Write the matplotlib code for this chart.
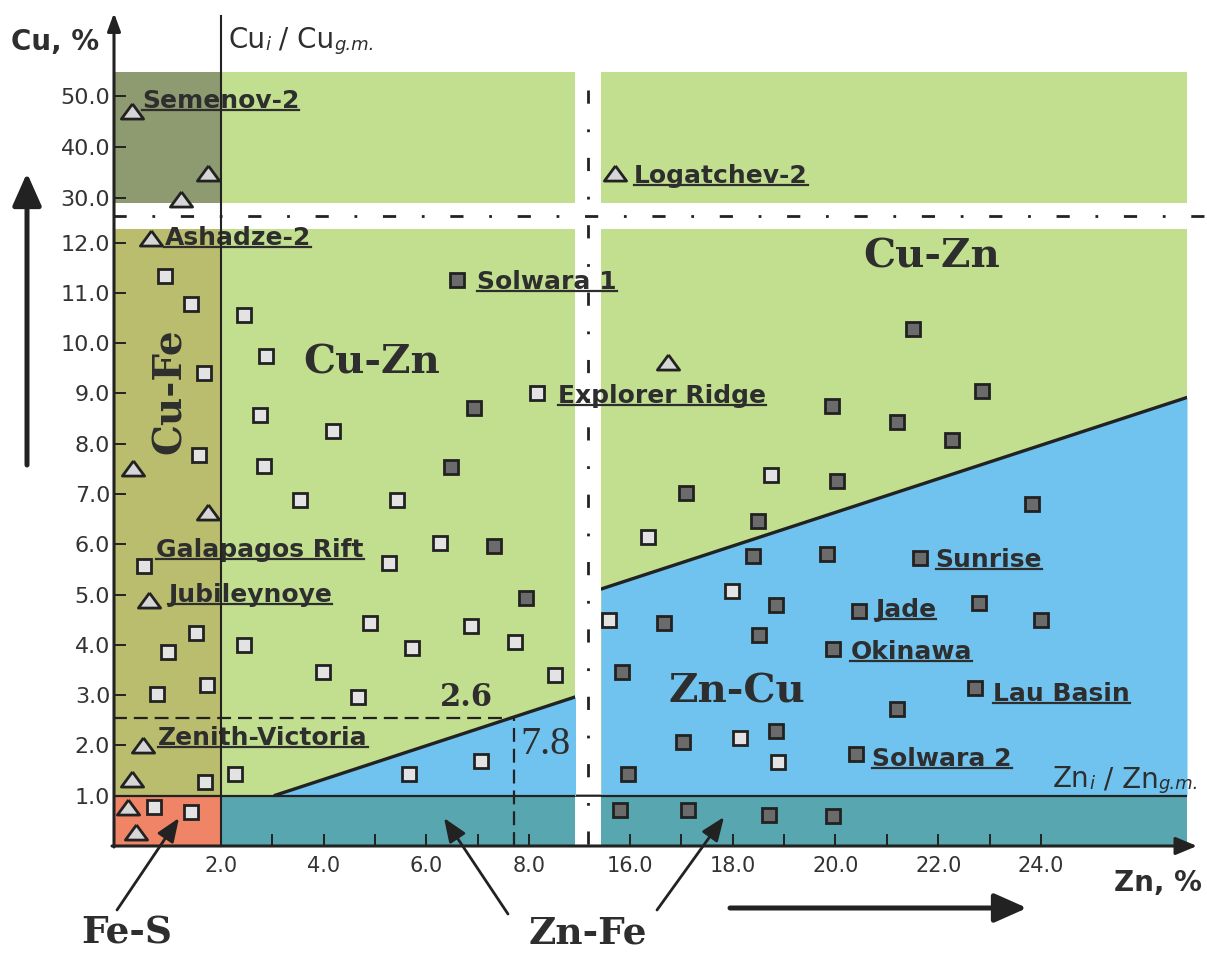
import numpy as np
import matplotlib.pyplot as plt
from matplotlib.patches import ConnectionPatch
from matplotlib.lines import Line2D
from matplotlib.transforms import IdentityTransform

plt.rcParams['font.family'] = 'DejaVu Sans'
plt.rcParams['lines.scale_dashes'] = False

# sample points, Zn % / Cu %
tri_zn = [0.64, 0.29, 1.74, 0.61, 0.48, 0.26, 0.20, 0.34, 16.74, 0.27, 1.75, 1.23, 15.71]
tri_cu = [12.1, 7.52, 6.65, 4.89, 2.0, 1.33, 0.77, 0.27, 9.62, 46.9, 34.9, 29.8, 34.8]

light_zn = [0.92, 1.41, 1.68, 1.57, 0.50, 1.51, 0.97, 1.73, 0.75, 1.69, 0.69, 1.41,
            2.44, 2.87, 2.77, 4.19, 2.83, 3.54, 5.43, 6.27, 5.28, 4.90, 6.86, 2.44,
            5.71, 7.73, 3.98, 4.66, 8.50, 2.27, 5.66, 7.07, 8.15,
            18.74, 16.35, 17.99, 15.60, 18.15, 18.89]
light_cu = [11.33, 10.77, 9.40, 7.77, 5.57, 4.23, 3.85, 3.20, 3.02, 1.28, 0.78, 0.67,
            10.55, 9.74, 8.58, 8.26, 7.56, 6.89, 6.89, 6.02, 5.63, 4.43, 4.37, 3.99,
            3.94, 4.06, 3.46, 2.97, 3.41, 1.43, 1.43, 1.69, 9.01,
            7.37, 6.14, 5.08, 4.50, 2.15, 1.67]

dark_zn = [6.59, 6.93, 6.48, 7.31, 7.93,
           21.50, 22.85, 19.94, 21.19, 22.26, 17.09, 20.04, 23.83, 18.50, 18.40,
           19.84, 21.64, 18.84, 22.80, 20.45, 16.67, 24.00, 18.51, 19.95, 15.84,
           22.71, 21.19, 18.84, 17.03, 20.40, 15.96, 15.81, 17.14, 18.71, 19.95]
dark_cu = [11.26, 8.72, 7.53, 5.96, 4.93,
           10.29, 9.04, 8.76, 8.43, 8.07, 7.02, 7.25, 6.80, 6.46, 5.77,
           5.81, 5.72, 4.80, 4.84, 4.68, 4.43, 4.50, 4.19, 3.91, 3.46,
           3.14, 2.72, 2.28, 2.07, 1.83, 1.43, 0.72, 0.72, 0.62, 0.59]

# deposit names and where their labels sit
names = ['Semenov-2', 'Logatchev-2', 'Ashadze-2', 'Solwara 1', 'Explorer Ridge',
         'Galapagos Rift', 'Jubileynoye', 'Zenith-Victoria', 'Sunrise', 'Jade',
         'Okinawa', 'Lau Basin', 'Solwara 2']
name_zn = [0.46, 16.08, 0.90, 6.99, 8.56, 0.74, 0.97, 0.78, 21.95, 20.77, 20.29, 23.07, 20.72]
name_cu = [47.5, 32.9, 11.96, 11.08, 8.80, 5.74, 4.86, 2.00, 5.54, 4.56, 3.71, 2.89, 1.59]

# field boundaries
div_left_zn = [3.03, 8.94]
div_left_cu = [1.0, 2.98]
div_right_zn = [15.44, 26.84]
div_right_cu = [5.11, 8.92]
cu_gm = 1.0      # Cu_i / Cu_g.m. = 1 (horizontal)
zn_gm = 2.0      # Zn_i / Zn_g.m. = 1 (vertical)
cu_cut, zn_cut = 2.55, 7.7

cu_ticks_low = [1, 2, 3, 4, 5, 6, 7, 8, 9, 10, 11, 12]
cu_ticks_up = [30, 40, 50]
zn_ticks_left = [2, 4, 6, 8]
zn_ticks_right = [16, 18, 20, 22, 24]

green = '#c2df8f'
olive = '#b9bd6d'
dark_olive = '#8e9a70'
salmon = '#ef8467'
teal = '#58a6af'
blue = '#6fc3ee'
ink = '#222222'
txt = '#2e2e2e'

W, H = 1207, 955
fig = plt.figure(figsize=(W / 100, H / 100), dpi=100)


def px_axes(x0, y0, x1, y1):
    return fig.add_axes([x0 / W, 1 - y1 / H, (x1 - x0) / W, (y1 - y0) / H])


ax_ll = px_axes(113, 229, 575, 846)
ax_lr = px_axes(601, 229, 1187, 846)
ax_ul = px_axes(113, 72, 575, 203)
ax_ur = px_axes(601, 72, 1187, 203)
ax_ll.set_zorder(2)
ax_ul.set_zorder(2)
ax_lr.set_zorder(1)
ax_ur.set_zorder(1)

left_lim = (-0.1, 8.89)
right_lim = (15.44, 26.84)
low_lim = (0, 12.27)
up_lim = (29.0, 54.6)

for ax, xl, yl in [(ax_ll, left_lim, low_lim), (ax_lr, right_lim, low_lim),
                   (ax_ul, left_lim, up_lim), (ax_ur, right_lim, up_lim)]:
    ax.set_xlim(*xl)
    ax.set_ylim(*yl)
    ax.set_facecolor(green)
    for s in ax.spines.values():
        s.set_visible(False)
    ax.tick_params(which='both', direction='in', length=9, width=1.4,
                   color=ink, labelcolor='#333333')

# fields, lower left
x0, x1 = left_lim
ax_ll.fill_between([x0, zn_gm], cu_gm, low_lim[1], color=olive, lw=0)
ax_ll.fill_between([x0, zn_gm], 0, cu_gm, color=salmon, lw=0)
ax_ll.fill_between([zn_gm, x1], 0, cu_gm, color=teal, lw=0)
ax_ll.fill_between(div_left_zn, cu_gm, div_left_cu, color=blue, lw=0)
ax_ll.plot(div_left_zn, div_left_cu, color=ink, lw=2.4, solid_capstyle='butt')
ax_ll.axhline(cu_gm, color=ink, lw=1.6)

# fields, lower right
ax_lr.fill_between(right_lim, 0, cu_gm, color=teal, lw=0)
ax_lr.fill_between(div_right_zn, cu_gm, div_right_cu, color=blue, lw=0)
ax_lr.plot(div_right_zn, div_right_cu, color=ink, lw=2.4)
ax_lr.axhline(cu_gm, color=ink, lw=1.6)

# upper left
ax_ul.fill_between([x0, zn_gm], up_lim[0], up_lim[1], color=dark_olive, lw=0)

# 2.6 / 7.8 guides
zn_at_cut = np.interp(cu_cut, div_left_cu, div_left_zn)
cu_at_cut = np.interp(zn_cut, div_left_zn, div_left_cu)
ax_ll.plot([x0, zn_at_cut], [cu_cut, cu_cut], color=ink, lw=1.6, ls=(0, (10, 5)))
ax_ll.plot([zn_cut, zn_cut], [0, cu_at_cut], color=ink, lw=1.6, ls=(0, (10, 5)))
ax_ll.text(6.78, 2.95, '2.6', fontsize=22, family='DejaVu Serif', weight='bold',
           color=txt, ha='center', va='center')
ax_ll.text(8.31, 2.02, '7.8', fontsize=29, family='Liberation Serif',
           color=txt, ha='center', va='center')

# ticks
ax_ll.set_yticks(cu_ticks_low)
ax_ll.set_yticklabels([f'{v:.1f}' for v in cu_ticks_low])
ax_ul.set_yticks(cu_ticks_up)
ax_ul.set_yticklabels([f'{v:.1f}' for v in cu_ticks_up])
for ax in (ax_ll, ax_ul):
    ax.tick_params(axis='y', labelsize=16, pad=2)
ax_ll.set_xticks(zn_ticks_left)
ax_ll.set_xticklabels([f'{v:.1f}' for v in zn_ticks_left])
ax_ll.set_xticks([3, 5, 7], minor=True)
ax_lr.set_xticks(zn_ticks_right)
ax_lr.set_xticklabels([f'{v:.1f}' for v in zn_ticks_right])
ax_lr.set_xticks([17, 19, 21, 23], minor=True)
for ax in (ax_ll, ax_lr):
    ax.tick_params(axis='x', labelsize=15, pad=7)
ax_lr.set_yticks([])
ax_ur.set_yticks([])
ax_ul.set_xticks([])
ax_ur.set_xticks([])

panels = [(ax_ll, 0, 12, -5, 20), (ax_lr, 12, 40, -5, 20),
          (ax_ul, 0, 12, 20, 80), (ax_ur, 12, 40, 20, 80)]


def panel_of(z, c):
    for ax, zlo, zhi, clo, chi in panels:
        if zlo <= z < zhi and clo <= c < chi:
            return ax


def draw_points(zn, cu, **kw):
    zn = np.asarray(zn)
    cu = np.asarray(cu)
    for ax, zlo, zhi, clo, chi in panels:
        m = (zn >= zlo) & (zn < zhi) & (cu >= clo) & (cu < chi)
        ax.plot(zn[m], cu[m], ls='none', clip_on=False, zorder=4, **kw)


tri_marker = [(0, 0.68), (-1, -0.68), (1, -0.68), (0, 0.68)]
draw_points(light_zn, light_cu, marker='s', ms=10, mfc='#e3e3e3', mec=ink, mew=2)
draw_points(dark_zn, dark_cu, marker='s', ms=10, mfc='#6b6b6b', mec=ink, mew=2)
draw_points(tri_zn, tri_cu, marker=tri_marker, ms=16, mfc='#d6d6d6', mec=ink, mew=2)

# deposit labels
labels = []
for n, z, c in zip(names, name_zn, name_cu):
    ax = panel_of(z, c)
    labels.append(ax.text(z, c, n, fontsize=18, weight='bold', color=txt,
                          ha='left', va='baseline', zorder=6))

# field names
serif = dict(family='DejaVu Serif', weight='bold', color=txt, ha='center', va='center')
ax_ll.text(4.94, 9.62, 'Cu-Zn', fontsize=29, **serif)
ax_lr.text(21.87, 11.72, 'Cu-Zn', fontsize=29, **serif)
ax_lr.text(18.09, 3.07, 'Zn-Cu', fontsize=29, **serif)
ax_ll.text(1.01, 9.05, 'Cu-Fe', fontsize=28, rotation=90, **serif)

# Cu_i/Cu_g.m. = 1 line continues across the break
fig.add_artist(ConnectionPatch((left_lim[1], cu_gm), (right_lim[0], cu_gm),
                               coordsA=ax_ll.transData, coordsB=ax_lr.transData,
                               color=ink, lw=1.6))

# overlay for axes arrows, break marks, captions (pixel units)
ov = fig.add_axes([0, 0, 1, 1])
ov.set_xlim(0, W)
ov.set_ylim(H, 0)
ov.axis('off')
ov.set_zorder(3)
ov.patch.set_alpha(0)

x_gm = ax_ll.transData.transform((zn_gm, 0))[0]
ov.plot([x_gm, x_gm], [16, 846], color=ink, lw=1.5)

ov.annotate('', xy=(114, 13), xytext=(114, 847),
            arrowprops=dict(arrowstyle='-|>,head_length=0.6,head_width=0.22',
                            mutation_scale=18, lw=2.2, color=ink, shrinkA=0, shrinkB=0))
ov.annotate('', xy=(1197, 846), xytext=(112, 846),
            arrowprops=dict(arrowstyle='-|>,head_length=0.72,head_width=0.3',
                            mutation_scale=18, lw=2.2, color=ink, shrinkA=0, shrinkB=0))

dashdot = (0, (9.5, 18.5, 2, 18.5))
ov.plot([588, 588], [90, 846], color=ink, lw=2, ls=dashdot)
ov.plot([113, W], [216, 216], color=ink, lw=2, ls=dashdot)

big = dict(arrowstyle='-|>,head_length=0.9,head_width=0.4', mutation_scale=22,
           lw=3.6, color=ink, shrinkA=0, shrinkB=0)
ov.annotate('', xy=(27, 173), xytext=(27, 465), arrowprops=big)
ov.annotate('', xy=(1027, 908), xytext=(730, 908), arrowprops=big)

small = dict(arrowstyle='-|>,head_length=0.8,head_width=0.32', mutation_scale=18,
             lw=2, color=ink, shrinkA=0, shrinkB=0)
ov.annotate('', xy=(179, 818), xytext=(117, 910), arrowprops=small)
ov.annotate('', xy=(444, 818), xytext=(508, 914), arrowprops=small)
ov.annotate('', xy=(724, 817), xytext=(657, 910), arrowprops=small)

ov.text(127, 943, 'Fe-S', fontsize=27, family='DejaVu Serif', weight='bold',
        color=txt, ha='center', va='baseline')
ov.text(588, 943, 'Zn-Fe', fontsize=27, family='DejaVu Serif', weight='bold',
        color=txt, ha='center', va='baseline')
ov.text(55, 50, 'Cu, %', fontsize=20, weight='bold', color=txt, ha='center', va='baseline')
ov.text(1158, 891, 'Zn, %', fontsize=20, weight='bold', color=txt, ha='center', va='baseline')


def ratio_label(x, y, el):
    t = ov.text(x, y, el, fontsize=20, color=txt, va='baseline')
    t = ov.annotate('i', xy=(1, 0), xycoords=t, fontsize=13, style='italic',
                    color=txt, va='bottom')
    t = ov.annotate(' / ' + el, xy=(1, 0), xycoords=t, fontsize=20, color=txt,
                    va='bottom')
    ov.annotate('g.m.', xy=(1, 0), xycoords=t, fontsize=13, style='italic',
                color=txt, va='bottom')


ratio_label(228, 48, 'Cu')
ratio_label(1053, 787, 'Zn')

# underline the deposit names
fig.canvas.draw()
r = fig.canvas.get_renderer()
for t in labels:
    bb = t.get_window_extent(r)
    fig.add_artist(Line2D([bb.x0, bb.x1], [bb.y0 + 3, bb.y0 + 3], lw=1.6,
                          color=txt, transform=IdentityTransform(), zorder=2.5))

fig.savefig('out.png', dpi=100)
